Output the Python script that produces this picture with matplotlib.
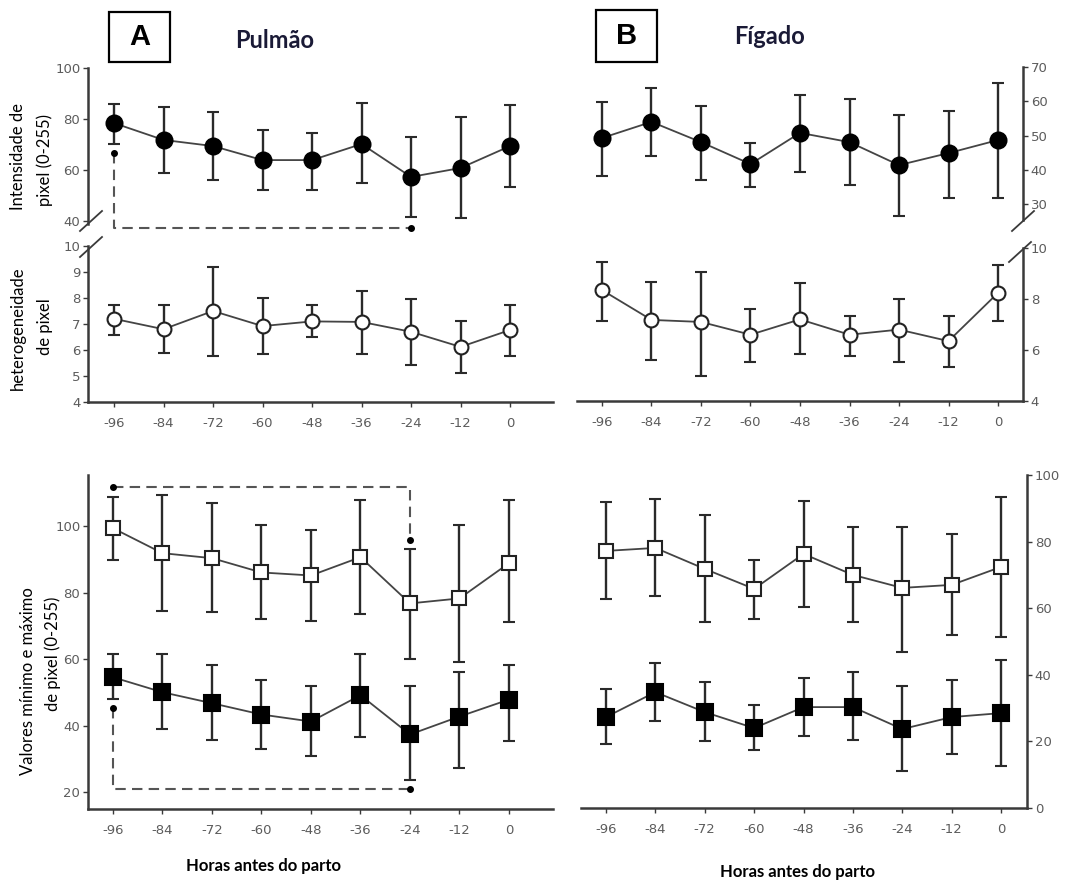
import matplotlib.pyplot as plt
import numpy as np
from matplotlib.patches import Rectangle
from matplotlib.lines import Line2D

plt.rcParams['axes.unicode_minus'] = False

hours = np.array([-96, -84, -72, -60, -48, -36, -24, -12, 0])

# Pulmao - intensidade (filled circles)
a_int = np.array([78.4, 71.8, 69.4, 63.9, 63.9, 70.2, 57.3, 60.8, 69.4])
a_int_hi = np.array([86.0, 84.7, 82.7, 75.7, 74.5, 86.3, 73.0, 80.8, 85.5])
a_int_lo = np.array([70.2, 58.8, 56.0, 52.0, 52.0, 54.9, 41.6, 41.2, 53.3])
# Pulmao - heterogeneidade (open circles)
a_het = np.array([7.2, 6.8, 7.5, 6.92, 7.1, 7.08, 6.7, 6.12, 6.77])
a_het_hi = np.array([7.73, 7.73, 9.2, 8.0, 7.73, 8.27, 7.96, 7.12, 7.73])
a_het_lo = np.array([6.58, 5.9, 5.77, 5.85, 6.5, 5.85, 5.42, 5.12, 5.77])
# Pulmao - maximo (open squares) / minimo (filled squares)
a_max = np.array([99.4, 91.9, 90.4, 86.1, 85.2, 90.7, 76.8, 78.3, 88.9])
a_max_hi = np.array([108.7, 109.3, 107.0, 100.3, 98.8, 107.8, 93.1, 100.3, 107.8])
a_max_lo = np.array([89.8, 74.4, 74.1, 72.0, 71.4, 73.5, 60.0, 59.1, 71.1])
a_min = np.array([54.6, 50.1, 46.8, 43.4, 41.3, 49.2, 37.4, 42.8, 47.9])
a_min_hi = np.array([61.5, 61.5, 58.2, 53.7, 51.9, 61.5, 51.9, 56.1, 58.2])
a_min_lo = np.array([48.2, 38.9, 35.8, 33.0, 31.0, 36.5, 23.6, 27.2, 35.3])

# Figado
b_int = np.array([49.3, 54.0, 48.1, 41.7, 50.8, 48.1, 41.4, 44.9, 48.7])
b_int_hi = np.array([59.8, 63.9, 58.6, 47.8, 61.8, 60.7, 56.0, 57.2, 65.3])
b_int_lo = np.array([38.2, 44.0, 37.0, 35.0, 39.4, 35.6, 26.6, 31.8, 31.8])
b_het = np.array([8.35, 7.18, 7.1, 6.6, 7.2, 6.6, 6.8, 6.35, 8.24])
b_het_hi = np.array([9.45, 8.67, 9.06, 7.6, 8.63, 7.33, 8.0, 7.33, 9.33])
b_het_lo = np.array([7.14, 5.6, 5.0, 5.53, 5.84, 5.76, 5.53, 5.33, 7.14])
b_max = np.array([77.2, 78.1, 71.8, 65.8, 76.3, 70.0, 66.1, 67.0, 72.4])
b_max_hi = np.array([91.9, 92.8, 88.0, 74.5, 92.2, 84.4, 84.4, 82.3, 93.4])
b_max_lo = np.array([62.8, 63.7, 55.9, 56.8, 60.4, 55.9, 46.8, 52.0, 51.4])
b_min = np.array([27.3, 34.8, 28.8, 24.0, 30.3, 30.3, 23.7, 27.3, 28.5])
b_min_hi = np.array([35.7, 43.5, 37.8, 30.9, 39.0, 40.8, 36.6, 38.4, 44.4])
b_min_lo = np.array([19.2, 26.1, 20.1, 17.4, 21.6, 20.4, 11.0, 16.2, 12.6])

# significance brackets (Pulmao): hour pairs and levels
br_x = [-96, -24]
br_int = [66.7, 37.3]
br_max = [111.7, 95.8]
br_min = [45.4, 20.9]

W, H = 1082, 886
fig = plt.figure(figsize=(W / 100, H / 100), dpi=100)

def add_ax(l, t, r, b):
    return fig.add_axes([l / W, 1 - b / H, (r - l) / W, (b - t) / H])

tick_col = '#5c5c5c'
spine_col = '#3a3a3a'

def style(ax, side, bottom, xlim, ylim, yticks):
    for s in ['top', 'left', 'right', 'bottom']:
        ax.spines[s].set_visible(False)
    ax.spines[side].set_visible(True)
    ax.spines[side].set_color(spine_col)
    ax.spines[side].set_linewidth(1.8)
    ax.set_xlim(xlim)
    ax.set_ylim(ylim)
    ax.set_yticks(yticks)
    ax.patch.set_alpha(0)
    if side == 'right':
        ax.yaxis.tick_right()
    ax.tick_params(axis='y', direction='out', length=3.5, width=1, color=spine_col,
                   labelsize=9.5, labelcolor=tick_col, pad=2)
    if bottom:
        ax.spines['bottom'].set_visible(True)
        ax.spines['bottom'].set_color(spine_col)
        ax.spines['bottom'].set_linewidth(1.8)
        ax.set_xticks(hours)
        ax.tick_params(axis='x', direction='out', length=3.5, width=1, color=spine_col,
                       labelsize=9.5, labelcolor=tick_col, pad=7)
    else:
        ax.set_xticks([])

def series(ax, y, lo, hi, marker, filled, ms):
    ax.errorbar(hours, y, yerr=[y - lo, hi - y], fmt='-', color='#444444', lw=1.3,
                ecolor='#2a2a2a', elinewidth=1.7, capsize=4, capthick=1.7,
                marker=marker, ms=ms, mfc='black' if filled else 'white',
                mec='black' if filled else '#222222', mew=1.5, clip_on=False, zorder=3)

def bracket(ax, xs, ys, corner_x):
    # dashed elbow connector with dots at both ends
    if corner_x == xs[0]:
        px = [xs[0], xs[0], xs[1]]
        py = [ys[0], ys[1], ys[1]]
    else:
        px = [xs[0], xs[1], xs[1]]
        py = [ys[0], ys[0], ys[1]]
    ax.plot(px, py, ls=(0, (5, 3)), color='#555555', lw=1.5, clip_on=False, zorder=2)
    ax.plot(xs, ys, 'o', color='black', ms=4, clip_on=False, zorder=4)

xa = (-102.3, 10.4)
xb = (-102.06, 6.06)

ax1 = add_ax(88, 68, 553, 223.6)
style(ax1, 'left', False, xa, (39, 100), [40, 60, 80, 100])
series(ax1, a_int, a_int_lo, a_int_hi, 'o', True, 11.5)
bracket(ax1, br_x, br_int, br_x[0])

ax2 = add_ax(88, 246, 553, 402)
style(ax2, 'left', True, xa, (4, 10), np.arange(4, 11))
series(ax2, a_het, a_het_lo, a_het_hi, 'o', False, 10)

ax3 = add_ax(577, 67, 1023, 220)
style(ax3, 'right', False, xb, (25.4, 70), [30, 40, 50, 60, 70])
series(ax3, b_int, b_int_lo, b_int_hi, 'o', True, 11.5)

ax4 = add_ax(577, 248, 1023, 401)
style(ax4, 'right', True, xb, (4, 10), [4, 6, 8, 10])
series(ax4, b_het, b_het_lo, b_het_hi, 'o', False, 10)

ax5 = add_ax(88, 475, 553, 809)
style(ax5, 'left', True, (-102.06, 10.67), (15, 115.4), [20, 40, 60, 80, 100])
series(ax5, a_max, a_max_lo, a_max_hi, 's', False, 10.5)
series(ax5, a_min, a_min_lo, a_min_hi, 's', True, 11)
bracket(ax5, br_x, br_max, br_x[1])
bracket(ax5, br_x, br_min, br_x[0])

ax6 = add_ax(581, 475, 1027, 808)
style(ax6, 'right', True, (-102.06, 6.3), (0, 100), [0, 20, 40, 60, 80, 100])
series(ax6, b_max, b_max_lo, b_max_hi, 's', False, 10.5)
series(ax6, b_min, b_min_lo, b_min_hi, 's', True, 11)

# axis break marks
def slash(cx, cy):
    fig.add_artist(Line2D([(cx - 11) / W, (cx + 11) / W], [1 - (cy + 10) / H, 1 - (cy - 10) / H],
                          color=spine_col, lw=1.3))

slash(91, 221)
slash(91, 247)
slash(1023, 221)
slash(1020, 252)

lab = dict(family=['Lato', 'DejaVu Sans'], fontsize=12, color='black',
           rotation=90, ha='center', va='center')
fig.text(18 / W, 1 - 157 / H, 'Intensidade de', **lab)
fig.text(45 / W, 1 - 160 / H, 'pixel (0-255)', **lab)
fig.text(18 / W, 1 - 328 / H, 'heterogeneidade', **lab)
fig.text(45 / W, 1 - 327 / H, 'de pixel', **lab)
fig.text(28 / W, 1 - 681 / H, 'Valores mínimo e máximo', **lab)
fig.text(53 / W, 1 - 654 / H, 'de pixel (0-255)', **lab)

xl = dict(family=['Lato', 'DejaVu Sans'], fontsize=12, fontweight='bold',
          color='black', ha='center', va='center')
fig.text(264 / W, 1 - 866 / H, 'Horas antes do parto', **xl)
fig.text(798 / W, 1 - 872 / H, 'Horas antes do parto', **xl)

# panel letters and titles
for (l, t, r, b), letter in [((109, 12, 170, 62), 'A'), ((596, 10, 657, 62), 'B')]:
    fig.add_artist(Rectangle((l / W, 1 - b / H), (r - l) / W, (b - t) / H,
                             transform=fig.transFigure, fill=False, ec='black', lw=1.6))
    fig.text((l + r) / 2 / W, 1 - (t + b) / 2 / H, letter, family=['Liberation Sans', 'DejaVu Sans'],
             fontsize=21, fontweight='bold', ha='center', va='center')

tt = dict(family=['Lato', 'DejaVu Sans'], fontsize=17, fontweight='bold',
          color='#1a1a36', ha='center', va='center')
fig.text(275 / W, 1 - 41 / H, 'Pulmão', **tt)
fig.text(770 / W, 1 - 37 / H, 'Fígado', **tt)

fig.savefig('out.png', dpi=100)
